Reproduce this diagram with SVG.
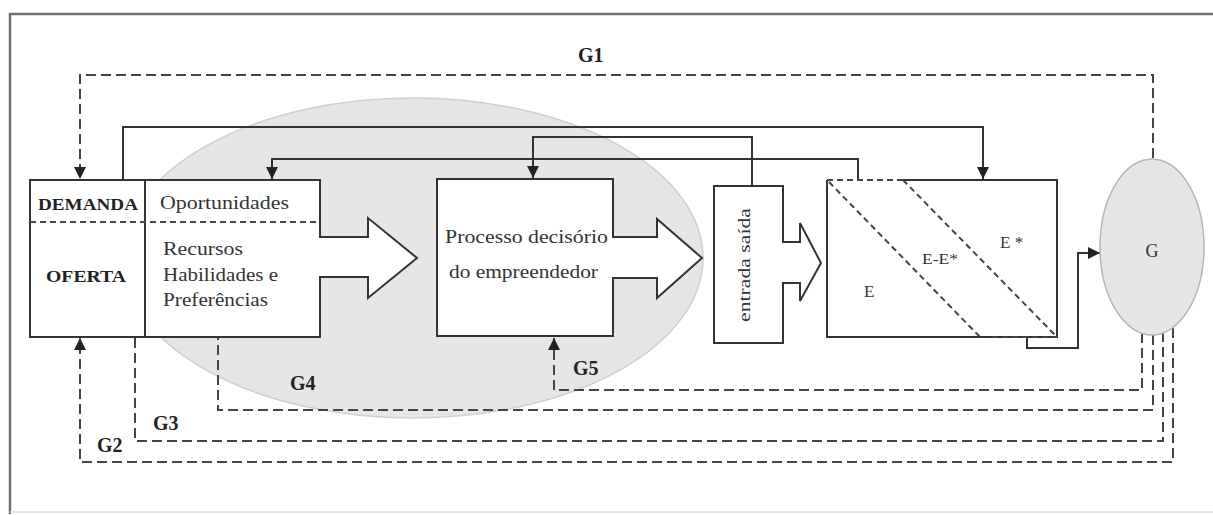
<svg xmlns="http://www.w3.org/2000/svg" width="1213" height="515" viewBox="0 0 1213 515">
<style>
.frame{fill:none;stroke:#707070;stroke-width:2.5}
.box{fill:#fff;stroke:#333;stroke-width:2}
.solid{fill:none;stroke:#333;stroke-width:2}
.dash{fill:none;stroke:#444;stroke-width:2;stroke-dasharray:10 5}
.fine{fill:none;stroke:#444;stroke-width:2;stroke-dasharray:6 4}
.lbl{font-family:"Liberation Serif","Times New Roman",serif;fill:#333}
.b{font-weight:bold;fill:#222}
.g{font-family:"Liberation Serif","Times New Roman",serif;font-weight:bold;font-size:20px;fill:#222}
</style>
<defs>
<marker id="ah" viewBox="0 0 10 10" refX="10" refY="5" markerWidth="12" markerHeight="12" markerUnits="userSpaceOnUse" orient="auto">
<path d="M0,0 L10,5 L0,10 z" fill="#222"/>
</marker>
</defs>
<g id="frame">
<polyline class="frame" points="10,514 10,14 1213,14"/>
<line x1="10" y1="512" x2="1213" y2="512" stroke="#e2e2e2" stroke-width="1.5"/>
</g>
<g id="cloud">
<ellipse cx="413" cy="258" rx="290" ry="160" fill="#e6e6e6" stroke="#cfcfcf" stroke-width="1.5"/>
</g>
<g id="connectors">
<polyline class="solid" points="123,180 123,127 983,127 983,179" marker-end="url(#ah)"/>
<polyline class="solid" points="858,180 858,159 272,159 272,179" marker-end="url(#ah)"/>
<polyline class="solid" points="752,186 752,137 533,137 533,178" marker-end="url(#ah)"/>
<polyline class="solid" points="1027,337 1027,348 1078,348 1078,253 1100,253" marker-end="url(#ah)"/>
<polyline class="dash" points="1153,158 1153,75 80,75 80,179" marker-end="url(#ah)"/>
<polyline class="dash" points="1142,333 1142,390 554,390 554,338" marker-end="url(#ah)"/>
<polyline class="dash" points="1153,335 1153,410 218,410 218,318" marker-end="url(#ah)"/>
<polyline class="dash" points="1163,332 1163,441 135,441 135,263 155,263" marker-end="url(#ah)"/>
<polyline class="dash" points="1173,328 1173,462 80,462 80,338" marker-end="url(#ah)"/>
</g>
<g id="demanda-oferta">
<path class="box" d="M30,180 H320 V237 H368 V218 L417,258 L368,298 V277 H320 V337 H30 Z"/>
<line class="solid" x1="145" y1="180" x2="145" y2="337"/>
<line class="fine" x1="30" y1="222" x2="320" y2="222"/>
<text class="lbl b" x="38" y="210" font-size="17" textLength="100" lengthAdjust="spacingAndGlyphs">DEMANDA</text>
<text class="lbl b" x="46" y="282" font-size="17" textLength="80" lengthAdjust="spacingAndGlyphs">OFERTA</text>
<text class="lbl" x="160" y="209" font-size="18" fill="#3a2a3a" textLength="129" lengthAdjust="spacingAndGlyphs">Oportunidades</text>
<text class="lbl" x="163" y="255" font-size="18" textLength="80" lengthAdjust="spacingAndGlyphs">Recursos</text>
<text class="lbl" x="163" y="281" font-size="18" textLength="115" lengthAdjust="spacingAndGlyphs">Habilidades e</text>
<text class="lbl" x="163" y="306" font-size="18" textLength="105" lengthAdjust="spacingAndGlyphs">Preferências</text>
</g>
<g id="processo">
<path class="box" d="M437,179 H613 V237 H657 V219 L702,258 L657,298 V278 H613 V336 H437 Z"/>
<text class="lbl" x="445" y="243" font-size="18" fill="#3a3828" textLength="163" lengthAdjust="spacingAndGlyphs">Processo decisório</text>
<text class="lbl" x="449" y="278" font-size="18" textLength="149" lengthAdjust="spacingAndGlyphs">do empreendedor</text>
</g>
<g id="entrada-saida">
<path class="box" d="M714,186 H783 V242 H800 V223 L821,263 L800,301 V283 H783 V343 H714 Z"/>
<text class="lbl" transform="translate(750,322) rotate(-90)" font-size="16" fill="#3b2f45" textLength="114" lengthAdjust="spacingAndGlyphs">entrada saída</text>
</g>
<g id="e-box">
<rect x="827" y="180" width="230" height="157" fill="#fff"/>
<polyline class="solid" points="903,180 1057,180 1057,337 992,337"/>
<polyline class="solid" points="827,180 827,337 992,337"/>
<line class="fine" x1="827" y1="180" x2="903" y2="180"/>
<line class="fine" x1="992" y1="337" x2="1057" y2="337"/>
<line class="fine" x1="829" y1="182" x2="980" y2="337"/>
<line class="fine" x1="903" y1="180" x2="1055" y2="335"/>
<text class="lbl" x="1000" y="248" font-size="17">E *</text>
<text class="lbl" x="922" y="264" font-size="15" textLength="36" lengthAdjust="spacingAndGlyphs">E-E*</text>
<text class="lbl" x="864" y="297" font-size="17">E</text>
</g>
<g id="g-node">
<ellipse cx="1152" cy="247" rx="52" ry="88" fill="#e6e6e6" stroke="#b5b5b5" stroke-width="1.5"/>
<text class="lbl" x="1152" y="257" font-size="18" text-anchor="middle">G</text>
</g>
<g id="labels">
<text class="g" x="578" y="62">G1</text>
<text class="g" x="97" y="452">G2</text>
<text class="g" x="153" y="430">G3</text>
<text class="g" x="290" y="390">G4</text>
<text class="g" x="573" y="375">G5</text>
</g>
</svg>
